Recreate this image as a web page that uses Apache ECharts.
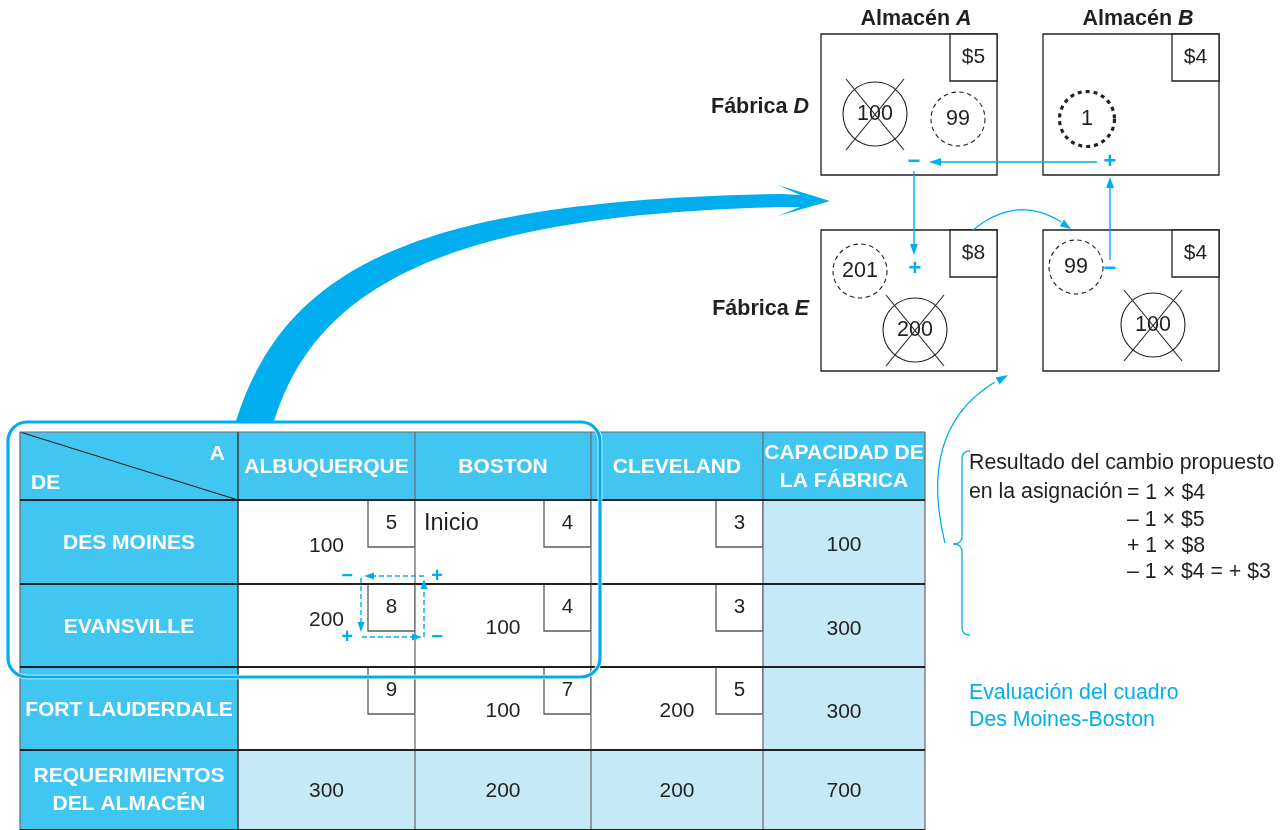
<!DOCTYPE html>
<html>
<head>
<meta charset="utf-8">
<title>Evaluación del cuadro Des Moines-Boston</title>
<script src="https://cdn.jsdelivr.net/npm/echarts@6.0.0/dist/echarts.min.js"></script>
<style>
html,body{margin:0;padding:0;background:#ffffff;}
#chart{width:1283px;height:830px;}
</style>
</head>
<body>
<div id="chart"></div>
<script>
// ---------------- DATA ----------------
const destinations = ['ALBUQUERQUE', 'BOSTON', 'CLEVELAND'];
const sources = ['DES MOINES', 'EVANSVILLE', 'FORT LAUDERDALE'];
const unitCosts = [[5, 4, 3], [8, 4, 3], [9, 7, 5]];
const shipments = [[100, null, null], [200, 100, null], [null, 100, 200]];
const capacities = [100, 300, 300];
const requirements = [300, 200, 200];
const totalUnits = 700;
const cornerLabels = ['A', 'DE'];
const capacityHeader = ['CAPACIDAD DE', 'LA FÁBRICA'];
const requirementHeader = ['REQUERIMIENTOS', 'DEL ALMACÉN'];
const startLabel = 'Inicio';
const startCell = [0, 1]; // [source, destination]

const warehouseLabels = ['A', 'B'];
const factoryLabels = ['D', 'E'];
const subCosts = [[5, 4], [8, 4]];
const currentAlloc = [[100, null], [200, 100]];
const proposedAlloc = [[99, 1], [201, 99]];
const changeSigns = [['−', '+'], ['+', '−']];

const resultIntro = ['Resultado del cambio propuesto', 'en la asignación'];
const resultTerms = ['= 1 × $4', '– 1 × $5', '+ 1 × $8', '– 1 × $4 = + $3'];
const captionLines = ['Evaluación del cuadro', 'Des Moines-Boston'];

// ---------------- LAYOUT / STYLE ----------------
const COLORS = { ink: '#231f20', head: '#41c5f1', light: '#c6e9f8', blue: '#00aeef', grey: '#58595b' };
const FONT = '"Liberation Sans", Arial, Helvetica, sans-serif';
const LAYOUT = {
  colEdges: [20, 238, 415, 591, 763, 925],
  rowEdges: [432, 500, 584, 667, 750, 830],
  costBox: 47,
  qtyDy: [[4, 0, 0], [-5, 3, 0], [0, 3, 3]],
  boxX: [821, 1043], boxY: [34, 230], boxW: 176, boxH: 141, subCostBox: 47,
  currentPos: [[[54, 80], null], [[94, 100], [110, 95]]],
  proposedPos: [[[137, 85], [44, 85]], [[39, 41], [33, 37]]],
  signPos: [[[93, 128], [67, 128]], [[94, 39], [67, 39]]],
  bigR: 32, smallR: 27,
  warehouseLabelDx: 7, warehouseLabelY: 19, factoryLabelX: 809, factoryLabelY: [107, 309],
  frame: { x: 8, y: 422, w: 592, h: 255, r: 19 },
  loop: { x1: 361, x2: 424, y1: 576, y2: 637, sx1: 347, sx2: 437 },
  arrowUpper: [[236, 421], [285, 265], [420, 200], [782, 194]],
  arrowLower: [[274, 421], [315, 290], [440, 215], [782, 207]],
  arrowHead: [[800, 195], [778, 185], [830, 201], [778, 216], [800, 207]],
  hArrow: { y: 162, x1: 1097, x2: 929 },
  dArrow: { x: 914, y1: 171, y2: 255 },
  uArrow: { x: 1110, y1: 260, y2: 177 },
  arcTop: [[973, 230], [1022, 190], [1071, 229]],
  arcSide: [[945, 543], [915, 420], [1008, 375]],
  brace: { x: 962, tip: 953, top: 451, mid: 544, bottom: 635, hook: 970, r: 8 },
  textX: 969, termX: 1127,
  introY: [463, 492], termY: [493, 520, 546, 572], captionY: [693, 720]
};

// ---------------- build cell list ----------------
const cells = [];
cells.push({ kind: 'corner', r: 0, c: 0 });
destinations.forEach((d, j) => cells.push({ kind: 'head', r: 0, c: j + 1, text: [d] }));
cells.push({ kind: 'head', r: 0, c: 4, text: capacityHeader });
sources.forEach((s, i) => {
  cells.push({ kind: 'head', r: i + 1, c: 0, text: [s] });
  destinations.forEach((d, j) => cells.push({ kind: 'route', r: i + 1, c: j + 1, i, j, cost: unitCosts[i][j], qty: shipments[i][j] }));
  cells.push({ kind: 'total', r: i + 1, c: 4, value: capacities[i] });
});
cells.push({ kind: 'head', r: 4, c: 0, text: requirementHeader });
requirements.forEach((v, j) => cells.push({ kind: 'total', r: 4, c: j + 1, value: v }));
cells.push({ kind: 'total', r: 4, c: 4, value: totalUnits });

const subCells = [];
factoryLabels.forEach((f, fi) => warehouseLabels.forEach((w, wi) => subCells.push([wi, fi])));

// ---------------- helpers ----------------
function txt(x, y, text, o) {
  return { type: 'text', x: x, y: y, style: Object.assign({ text: String(text), fill: COLORS.ink, fontSize: 21, fontFamily: FONT, align: 'center', verticalAlign: 'middle' }, o || {}) };
}
function line(a, b, style) {
  return { type: 'line', shape: { x1: a[0], y1: a[1], x2: b[0], y2: b[1] }, style: Object.assign({ stroke: COLORS.ink, lineWidth: 1.2 }, style || {}) };
}
function head(tip, from, len, hw, color) {
  const dx = tip[0] - from[0], dy = tip[1] - from[1];
  const d = Math.hypot(dx, dy), ux = dx / d, uy = dy / d;
  const bx = tip[0] - ux * len, by = tip[1] - uy * len;
  return { type: 'polygon', shape: { points: [tip, [bx - uy * hw, by + ux * hw], [bx + uy * hw, by - ux * hw]] }, style: { fill: color } };
}
function quad(p0, p1, p2, n) {
  const out = [];
  for (let k = 0; k <= n; k++) {
    const t = k / n, a = (1 - t) * (1 - t), b = 2 * (1 - t) * t, c = t * t;
    out.push([a * p0[0] + b * p1[0] + c * p2[0], a * p0[1] + b * p1[1] + c * p2[1]]);
  }
  return out;
}
function cubic(p0, p1, p2, p3, n) {
  const out = [];
  for (let k = 0; k <= n; k++) {
    const t = k / n, a = (1 - t) ** 3, b = 3 * (1 - t) ** 2 * t, c = 3 * (1 - t) * t * t, d = t ** 3;
    out.push([a * p0[0] + b * p1[0] + c * p2[0] + d * p3[0], a * p0[1] + b * p1[1] + c * p2[1] + d * p3[1]]);
  }
  return out;
}

// ---------------- renderers ----------------
function renderCell(params, api) {
  const cell = cells[params.dataIndex];
  const c = api.value(0), r = api.value(1);
  const p0 = api.coord([LAYOUT.colEdges[c], LAYOUT.rowEdges[r]]);
  const p1 = api.coord([LAYOUT.colEdges[c + 1], LAYOUT.rowEdges[r + 1]]);
  const x0 = p0[0], y0 = p0[1], x1 = p1[0], y1 = p1[1];
  const cx = (x0 + x1) / 2, cy = (y0 + y1) / 2;
  const kids = [];
  const fill = cell.kind === 'route' ? '#ffffff' : (cell.kind === 'total' ? COLORS.light : COLORS.head);
  kids.push({ type: 'rect', shape: { x: x0, y: y0, width: x1 - x0, height: y1 - y0 }, style: { fill: fill } });
  const bold = { fill: '#ffffff', fontWeight: 'bold', fontSize: 21 };
  if (cell.kind === 'corner') {
    kids.push(line([x0, y0], [x1, y1], { lineWidth: 1.1 }));
    kids.push(txt(x1 - 13, y0 + 22, cornerLabels[0], Object.assign({ align: 'right' }, bold)));
    kids.push(txt(x0 + 11, y0 + 51, cornerLabels[1], Object.assign({ align: 'left' }, bold)));
  } else if (cell.kind === 'head') {
    const n = cell.text.length;
    const base = r === 0 ? 1 : (r === 4 ? 0 : (r === 3 ? 2 : 1.5));
    cell.text.forEach((t, k) => kids.push(txt(cx, cy + base + (k - (n - 1) / 2) * 28, t, bold)));
  } else if (cell.kind === 'route') {
    const b = LAYOUT.costBox;
    kids.push({ type: 'rect', shape: { x: x1 - b, y: y0, width: b, height: b }, style: { fill: '#ffffff', stroke: COLORS.grey, lineWidth: 1.3 } });
    kids.push(txt(x1 - b / 2, y0 + b / 2, cell.cost, { fontSize: 20.5 }));
    if (cell.qty !== null) kids.push(txt(cx, cy + LAYOUT.qtyDy[cell.i][cell.j], cell.qty));
    if (cell.i === startCell[0] && cell.j === startCell[1]) kids.push(txt(x0 + 9, y0 + 24, startLabel, { align: 'left', fontSize: 23.5 }));
  } else if (cell.kind === 'total') {
    kids.push(txt(cx, cy + (r === 4 ? 1 : 3.5), cell.value));
  }
  return { type: 'group', children: kids };
}

function renderGrid(params, api) {
  const kids = [];
  const E = LAYOUT.colEdges, R = LAYOUT.rowEdges;
  E.forEach((x, k) => {
    const a = api.coord([x, R[0]]), b = api.coord([x, R[R.length - 1]]);
    kids.push(line(a, b, { stroke: k === 1 ? '#3a3a3a' : '#6d6e71', lineWidth: k === 1 ? 1.5 : 1.3 }));
  });
  R.forEach((y, k) => {
    const a = api.coord([E[0], y]), b = api.coord([E[E.length - 1], y]);
    kids.push(line(a, b, { stroke: k === 0 ? '#6d6e71' : '#231f20', lineWidth: k === 0 ? 1.2 : 2.2 }));
  });
  return { type: 'group', children: kids };
}

function renderSub(params, api) {
  const w = api.value(0), f = api.value(1);
  const P = (x, y) => api.coord([x, y]);
  const L = LAYOUT;
  const o = P(L.boxX[w], L.boxY[f]);
  const e = P(L.boxX[w] + L.boxW, L.boxY[f] + L.boxH);
  const kids = [];
  kids.push({ type: 'rect', shape: { x: o[0], y: o[1], width: e[0] - o[0], height: e[1] - o[1] }, style: { fill: '#ffffff', stroke: COLORS.ink, lineWidth: 1.3 } });
  const cb = L.subCostBox;
  kids.push({ type: 'rect', shape: { x: e[0] - cb, y: o[1], width: cb, height: cb }, style: { fill: '#ffffff', stroke: COLORS.ink, lineWidth: 1.3 } });
  kids.push(txt(e[0] - cb / 2, o[1] + cb / 2, '$' + subCosts[f][w]));
  const cur = currentAlloc[f][w];
  if (cur !== null) {
    const q = L.currentPos[f][w];
    const c = P(L.boxX[w] + q[0], L.boxY[f] + q[1]);
    kids.push({ type: 'circle', shape: { cx: c[0], cy: c[1], r: L.bigR }, style: { fill: null, stroke: COLORS.ink, lineWidth: 1.1 } });
    kids.push(txt(c[0], c[1], cur, { fontSize: 21.5 }));
    kids.push(line([c[0] - 29, c[1] - 35], [c[0] + 29, c[1] + 36], { lineWidth: 1.1 }));
    kids.push(line([c[0] + 29, c[1] - 35], [c[0] - 29, c[1] + 36], { lineWidth: 1.1 }));
  }
  const pq = L.proposedPos[f][w];
  const pc = P(L.boxX[w] + pq[0], L.boxY[f] + pq[1]);
  const isNew = cur === null;
  kids.push({ type: 'circle', shape: { cx: pc[0], cy: pc[1], r: isNew ? 27.5 : L.smallR }, style: { fill: null, stroke: COLORS.ink, lineWidth: isNew ? 3.2 : 1.1, lineDash: isNew ? [4, 4] : [4.5, 3.5] } });
  kids.push(txt(pc[0], pc[1], proposedAlloc[f][w], { fontSize: 21.5 }));
  const sp = L.signPos[f][w];
  const s = P(L.boxX[w] + sp[0], L.boxY[f] + sp[1]);
  kids.push(txt(s[0], s[1], changeSigns[f][w], { fill: COLORS.blue, fontWeight: 'bold', fontSize: 22 }));
  const rich = {
    b: { fontWeight: 'bold', fontSize: 21.5, fontFamily: FONT, fill: COLORS.ink },
    i: { fontWeight: 'bold', fontStyle: 'italic', fontSize: 21.5, fontFamily: FONT, fill: COLORS.ink }
  };
  if (f === 0) {
    const t = P(L.boxX[w] + L.boxW / 2 + L.warehouseLabelDx, L.warehouseLabelY);
    kids.push({ type: 'text', x: t[0], y: t[1], style: { text: '{b|Almacén }{i|' + warehouseLabels[w] + '}', rich: rich, align: 'center', verticalAlign: 'middle' } });
  }
  if (w === 0) {
    const t = P(L.factoryLabelX, L.factoryLabelY[f]);
    kids.push({ type: 'text', x: t[0], y: t[1], style: { text: '{b|Fábrica }{i|' + factoryLabels[f] + '}', rich: rich, align: 'right', verticalAlign: 'middle' } });
  }
  return { type: 'group', children: kids };
}

function renderNotes(params, api) {
  const L = LAYOUT;
  const P = (x, y) => api.coord([x, y]);
  const PP = p => api.coord(p);
  const kids = [];
  const blue = COLORS.blue;
  // frame around the two rows
  const fa = P(L.frame.x, L.frame.y), fb = P(L.frame.x + L.frame.w, L.frame.y + L.frame.h);
  const fr = { x: fa[0], y: fa[1], width: fb[0] - fa[0], height: fb[1] - fa[1], r: L.frame.r };
  kids.push({ type: 'rect', shape: fr, style: { fill: null, stroke: '#ffffff', lineWidth: 4.6 } });
  kids.push({ type: 'rect', shape: fr, style: { fill: null, stroke: blue, lineWidth: 3.2 } });
  // big arrow
  const U = L.arrowUpper.map(PP), Lo = L.arrowLower.map(PP), H = L.arrowHead.map(PP);
  const up = cubic(U[0], U[1], U[2], U[3], 60);
  const lo = cubic(Lo[0], Lo[1], Lo[2], Lo[3], 60).reverse();
  kids.push({ type: 'polygon', shape: { points: up.concat(H, lo) }, style: { fill: blue } });
  // loop inside the table
  const lp = L.loop;
  const a = P(lp.x1, lp.y1), b = P(lp.x2, lp.y1), c = P(lp.x2, lp.y2), d = P(lp.x1, lp.y2);
  const dash = { stroke: blue, lineWidth: 1.4, lineDash: [5, 3] };
  kids.push(line([b[0], b[1]], [a[0] + 8, a[1]], dash));
  kids.push(head([a[0] + 3, a[1]], b, 10, 3.5, blue));
  kids.push(line([a[0], a[1] + 2], [d[0], d[1] - 8], dash));
  kids.push(head([d[0], d[1] - 5], a, 10, 3.5, blue));
  kids.push(line([d[0] + 1, d[1]], [c[0] - 8, c[1]], dash));
  kids.push(head([c[0] - 2, c[1]], d, 10, 3.5, blue));
  kids.push(line([c[0], c[1]], [b[0], b[1] + 8], dash));
  kids.push(head([b[0], b[1] + 3], c, 10, 3.5, blue));
  const signStyle = { fill: blue, fontWeight: 'bold', fontSize: 20 };
  const sx = [lp.sx1, lp.sx2], sy = [lp.y1, lp.y2];
  for (let i = 0; i < 2; i++) for (let j = 0; j < 2; j++) {
    const s = P(sx[j], sy[i]);
    kids.push(txt(s[0], s[1], changeSigns[i][j], signStyle));
  }
  // arrows of the detail diagram
  const ha = L.hArrow;
  kids.push(line(P(ha.x1, ha.y), P(ha.x2 + 8, ha.y), { stroke: blue, lineWidth: 1.4 }));
  kids.push(head(P(ha.x2, ha.y), P(ha.x1, ha.y), 12, 4, blue));
  const da = L.dArrow;
  kids.push(line(P(da.x, da.y1), P(da.x, da.y2 - 8), { stroke: blue, lineWidth: 1.4 }));
  kids.push(head(P(da.x, da.y2), P(da.x, da.y1), 11, 4, blue));
  const ua = L.uArrow;
  kids.push(line(P(ua.x, ua.y1), P(ua.x, ua.y2 + 8), { stroke: blue, lineWidth: 1.4 }));
  kids.push(head(P(ua.x, ua.y2), P(ua.x, ua.y1), 11, 4, blue));
  const at = L.arcTop.map(PP);
  const atPts = quad(at[0], at[1], at[2], 30);
  kids.push({ type: 'polyline', shape: { points: atPts.slice(0, 28) }, style: { stroke: blue, lineWidth: 1.3, fill: null } });
  kids.push(head(at[2], atPts[25], 11, 4, blue));
  const as = L.arcSide.map(PP);
  const asPts = quad(as[0], as[1], as[2], 40);
  kids.push({ type: 'polyline', shape: { points: asPts.slice(0, 38) }, style: { stroke: blue, lineWidth: 1.3, fill: null } });
  kids.push(head(as[2], asPts[35], 12, 4, blue));
  // brace
  const br = L.brace;
  const bp = [].concat(
    quad(P(br.hook, br.top), P(br.x, br.top), P(br.x, br.top + br.r), 8),
    quad(P(br.x, br.mid - br.r), P(br.x, br.mid), P(br.tip, br.mid), 8),
    quad(P(br.tip, br.mid), P(br.x, br.mid), P(br.x, br.mid + br.r), 8),
    quad(P(br.x, br.bottom - br.r), P(br.x, br.bottom), P(br.hook, br.bottom), 8)
  );
  kids.push({ type: 'polyline', shape: { points: bp }, style: { stroke: blue, lineWidth: 1.3, fill: null } });
  // texts
  const ts = { align: 'left', fontSize: 21.3 };
  resultIntro.forEach((t, k) => { const p = P(L.textX, L.introY[k]); kids.push(txt(p[0], p[1], t, ts)); });
  resultTerms.forEach((t, k) => { const p = P(L.termX, L.termY[k]); kids.push(txt(p[0], p[1], t, ts)); });
  captionLines.forEach((t, k) => { const p = P(L.textX, L.captionY[k]); kids.push(txt(p[0], p[1], t, Object.assign({ fill: blue }, ts))); });
  return { type: 'group', children: kids };
}

// ---------------- chart ----------------
const chart = echarts.init(document.getElementById('chart'), null, { renderer: 'canvas' });
chart.setOption({
  animation: false,
  backgroundColor: '#ffffff',
  grid: { left: 0, right: 0, top: 0, bottom: 0 },
  xAxis: { type: 'value', min: 0, max: 1283, show: false },
  yAxis: { type: 'value', min: 0, max: 830, inverse: true, show: false },
  series: [
    { type: 'custom', name: 'tabla', z: 1, silent: true, clip: false, data: cells.map(c => [c.c, c.r]), renderItem: renderCell },
    { type: 'custom', name: 'rejilla', z: 2, silent: true, clip: false, data: [[0, 0]], renderItem: renderGrid },
    { type: 'custom', name: 'detalle', z: 3, silent: true, clip: false, data: subCells, renderItem: renderSub },
    { type: 'custom', name: 'anotaciones', z: 4, silent: true, clip: false, data: [[0, 0]], renderItem: renderNotes }
  ]
});
</script>
</body>
</html>
